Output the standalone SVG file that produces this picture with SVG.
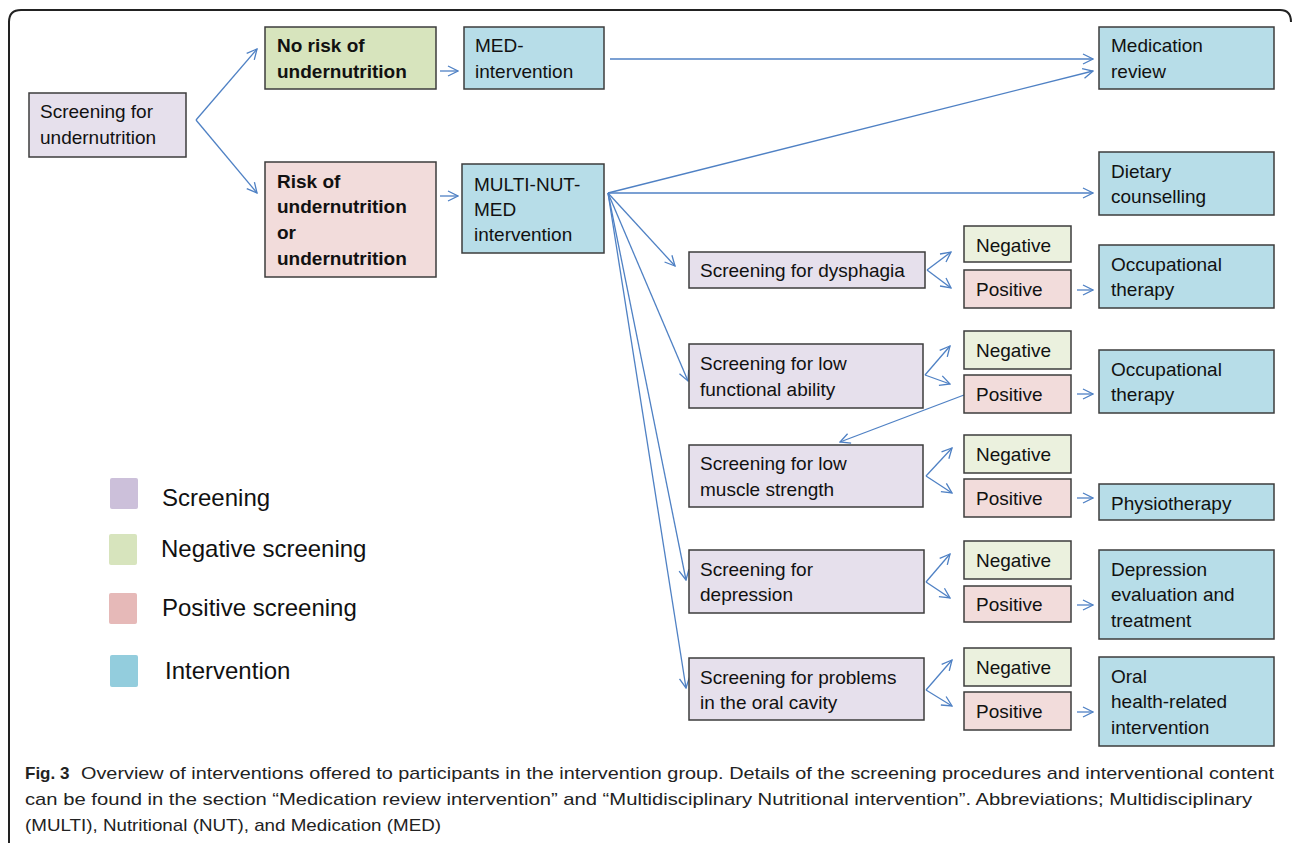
<svg xmlns="http://www.w3.org/2000/svg" width="1292" height="845" viewBox="0 0 1292 845">
<style>
.box{stroke:#3c3c3c;stroke-width:1.5}
.scr{fill:#e6e0ec}
.neg{fill:#ebf1de}
.pos{fill:#f2dcdb}
.negb{fill:#d7e4bd}
.int{fill:#b7dde8}
.t{font-family:"Liberation Sans",Arial,sans-serif;font-size:19px;fill:#111}
.b{font-weight:bold}
.lg{font-family:"Liberation Sans",Arial,sans-serif;font-size:24px;fill:#111}
.cap{font-family:"Liberation Sans",Arial,sans-serif;font-size:17px;fill:#222}
.c{fill:none;stroke:#4f81c4;stroke-width:1.3}
</style>
<defs>
<marker id="ah" viewBox="0 0 12 12" refX="11" refY="6" markerWidth="12" markerHeight="12" markerUnits="userSpaceOnUse" orient="auto">
<path d="M1,1 L11,6 L1,11" fill="none" stroke="#4f81c4" stroke-width="1.3"/>
</marker>
</defs>
<rect x="0" y="0" width="1292" height="845" fill="#fff"/>
<path d="M9,843 L9,22 Q9,10 21,10 L1280,10 Q1291,10 1291,22" fill="none" stroke="#222" stroke-width="2"/>

<g id="connectors">
<path class="c" marker-end="url(#ah)" d="M196,120 L257,49"/>
<path class="c" marker-end="url(#ah)" d="M196,120 L257,193"/>
<path class="c" marker-end="url(#ah)" d="M440,71 L458,71"/>
<path class="c" marker-end="url(#ah)" d="M440,196 L458,196"/>
<path class="c" marker-end="url(#ah)" d="M610,59 L1093,59"/>
<path class="c" marker-end="url(#ah)" d="M608,193 L1093,71"/>
<path class="c" marker-end="url(#ah)" d="M608,193 L1093,193"/>
<path class="c" marker-end="url(#ah)" d="M608,193 L675,266"/>
<path class="c" marker-end="url(#ah)" d="M608,193 L688,381"/>
<path class="c" marker-end="url(#ah)" d="M608,193 L686,580"/>
<path class="c" marker-end="url(#ah)" d="M608,193 L686,688"/>
<path class="c" marker-end="url(#ah)" d="M964,395 L840,442"/>
<path class="c" marker-end="url(#ah)" d="M927,270 L951,252"/>
<path class="c" marker-end="url(#ah)" d="M927,270 L951,288"/>
<path class="c" marker-end="url(#ah)" d="M925,375 L950,346"/>
<path class="c" marker-end="url(#ah)" d="M925,375 L950,384"/>
<path class="c" marker-end="url(#ah)" d="M926,476 L952,448"/>
<path class="c" marker-end="url(#ah)" d="M926,476 L952,493"/>
<path class="c" marker-end="url(#ah)" d="M926,582 L950,554"/>
<path class="c" marker-end="url(#ah)" d="M926,582 L950,598"/>
<path class="c" marker-end="url(#ah)" d="M926,690 L952,660"/>
<path class="c" marker-end="url(#ah)" d="M926,690 L952,706"/>
<path class="c" marker-end="url(#ah)" d="M1077,290 L1093,290"/>
<path class="c" marker-end="url(#ah)" d="M1077,394 L1093,394"/>
<path class="c" marker-end="url(#ah)" d="M1077,498 L1093,498"/>
<path class="c" marker-end="url(#ah)" d="M1077,605 L1093,605"/>
<path class="c" marker-end="url(#ah)" d="M1077,712 L1093,712"/>
</g>

<g id="screening-undernutrition"><rect class="box scr" x="29" y="93" width="157" height="64"/><text class="t" x="40" y="118">Screening for</text><text class="t" x="40" y="144">undernutrition</text></g>
<g id="no-risk"><rect class="box negb" x="265" y="27" width="171" height="62"/><text class="t b" x="277" y="52">No risk of</text><text class="t b" x="277" y="78">undernutrition</text></g>
<g id="med-intervention"><rect class="box int" x="464" y="27" width="140" height="62"/><text class="t" x="475" y="52">MED-</text><text class="t" x="475" y="78">intervention</text></g>
<g id="medication-review"><rect class="box int" x="1099" y="27" width="175" height="62"/><text class="t" x="1111" y="52">Medication</text><text class="t" x="1111" y="78">review</text></g>
<g id="risk"><rect class="box pos" x="265" y="162" width="171" height="115"/><text class="t b" x="277" y="188">Risk of</text><text class="t b" x="277" y="213">undernutrition</text><text class="t b" x="277" y="239">or</text><text class="t b" x="277" y="265">undernutrition</text></g>
<g id="multi-nut-med"><rect class="box int" x="462" y="164" width="142" height="89"/><text class="t" x="474" y="191">MULTI-NUT-</text><text class="t" x="474" y="216">MED</text><text class="t" x="474" y="241">intervention</text></g>
<g id="dietary"><rect class="box int" x="1099" y="152" width="175" height="63"/><text class="t" x="1111" y="178">Dietary</text><text class="t" x="1111" y="203">counselling</text></g>

<g id="scr-dysphagia"><rect class="box scr" x="689" y="252" width="236" height="36"/><text class="t" x="700" y="277">Screening for dysphagia</text></g>
<g id="neg-1"><rect class="box neg" x="964" y="226" width="107" height="36"/><text class="t" x="976" y="252">Negative</text></g>
<g id="pos-1"><rect class="box pos" x="964" y="270" width="107" height="38"/><text class="t" x="976" y="296">Positive</text></g>
<g id="ot-1"><rect class="box int" x="1099" y="245" width="175" height="63"/><text class="t" x="1111" y="271">Occupational</text><text class="t" x="1111" y="296">therapy</text></g>

<g id="scr-functional"><rect class="box scr" x="689" y="344" width="234" height="64"/><text class="t" x="700" y="370">Screening for low</text><text class="t" x="700" y="396">functional ability</text></g>
<g id="neg-2"><rect class="box neg" x="964" y="331" width="107" height="38"/><text class="t" x="976" y="357">Negative</text></g>
<g id="pos-2"><rect class="box pos" x="964" y="375" width="107" height="38"/><text class="t" x="976" y="401">Positive</text></g>
<g id="ot-2"><rect class="box int" x="1099" y="350" width="175" height="63"/><text class="t" x="1111" y="376">Occupational</text><text class="t" x="1111" y="401">therapy</text></g>

<g id="scr-muscle"><rect class="box scr" x="689" y="445" width="234" height="62"/><text class="t" x="700" y="470">Screening for low</text><text class="t" x="700" y="496">muscle strength</text></g>
<g id="neg-3"><rect class="box neg" x="964" y="435" width="107" height="38"/><text class="t" x="976" y="461">Negative</text></g>
<g id="pos-3"><rect class="box pos" x="964" y="479" width="107" height="38"/><text class="t" x="976" y="505">Positive</text></g>
<g id="physio"><rect class="box int" x="1099" y="484" width="175" height="36"/><text class="t" x="1111" y="510">Physiotherapy</text></g>

<g id="scr-depression"><rect class="box scr" x="689" y="550" width="235" height="63"/><text class="t" x="700" y="576">Screening for</text><text class="t" x="700" y="601">depression</text></g>
<g id="neg-4"><rect class="box neg" x="964" y="541" width="107" height="38"/><text class="t" x="976" y="567">Negative</text></g>
<g id="pos-4"><rect class="box pos" x="964" y="586" width="107" height="36"/><text class="t" x="976" y="611">Positive</text></g>
<g id="depression-eval"><rect class="box int" x="1099" y="550" width="175" height="89"/><text class="t" x="1111" y="576">Depression</text><text class="t" x="1111" y="601">evaluation and</text><text class="t" x="1111" y="627">treatment</text></g>

<g id="scr-oral"><rect class="box scr" x="689" y="658" width="235" height="62"/><text class="t" x="700" y="684">Screening for problems</text><text class="t" x="700" y="709">in the oral cavity</text></g>
<g id="neg-5"><rect class="box neg" x="964" y="648" width="107" height="38"/><text class="t" x="976" y="674">Negative</text></g>
<g id="pos-5"><rect class="box pos" x="964" y="692" width="107" height="38"/><text class="t" x="976" y="718">Positive</text></g>
<g id="oral-intervention"><rect class="box int" x="1099" y="657" width="175" height="89"/><text class="t" x="1111" y="683">Oral</text><text class="t" x="1111" y="708">health-related</text><text class="t" x="1111" y="734">intervention</text></g>

<g id="legend">
<rect x="110" y="478" width="28" height="31" rx="2" fill="#ccc0da"/><text class="lg" x="162" y="506">Screening</text>
<rect x="109" y="534" width="28" height="31" rx="2" fill="#d7e4bd"/><text class="lg" x="161" y="557">Negative screening</text>
<rect x="109" y="593" width="28" height="31" rx="2" fill="#e6b9b8"/><text class="lg" x="162" y="616">Positive screening</text>
<rect x="110" y="655" width="28" height="32" rx="2" fill="#93cddd"/><text class="lg" x="165" y="679">Intervention</text>
</g>

<g id="caption">
<text class="cap b" x="25" y="779" font-weight="bold">Fig. 3</text>
<text class="cap" x="81" y="779" textLength="1193" lengthAdjust="spacingAndGlyphs">Overview of interventions offered to participants in the intervention group. Details of the screening procedures and interventional content</text>
<text class="cap" x="25" y="805" textLength="1227" lengthAdjust="spacingAndGlyphs">can be found in the section “Medication review intervention” and “Multidisciplinary Nutritional intervention”. Abbreviations; Multidisciplinary</text>
<text class="cap" x="25" y="831" textLength="416" lengthAdjust="spacingAndGlyphs">(MULTI), Nutritional (NUT), and Medication (MED)</text>
</g>
</svg>
